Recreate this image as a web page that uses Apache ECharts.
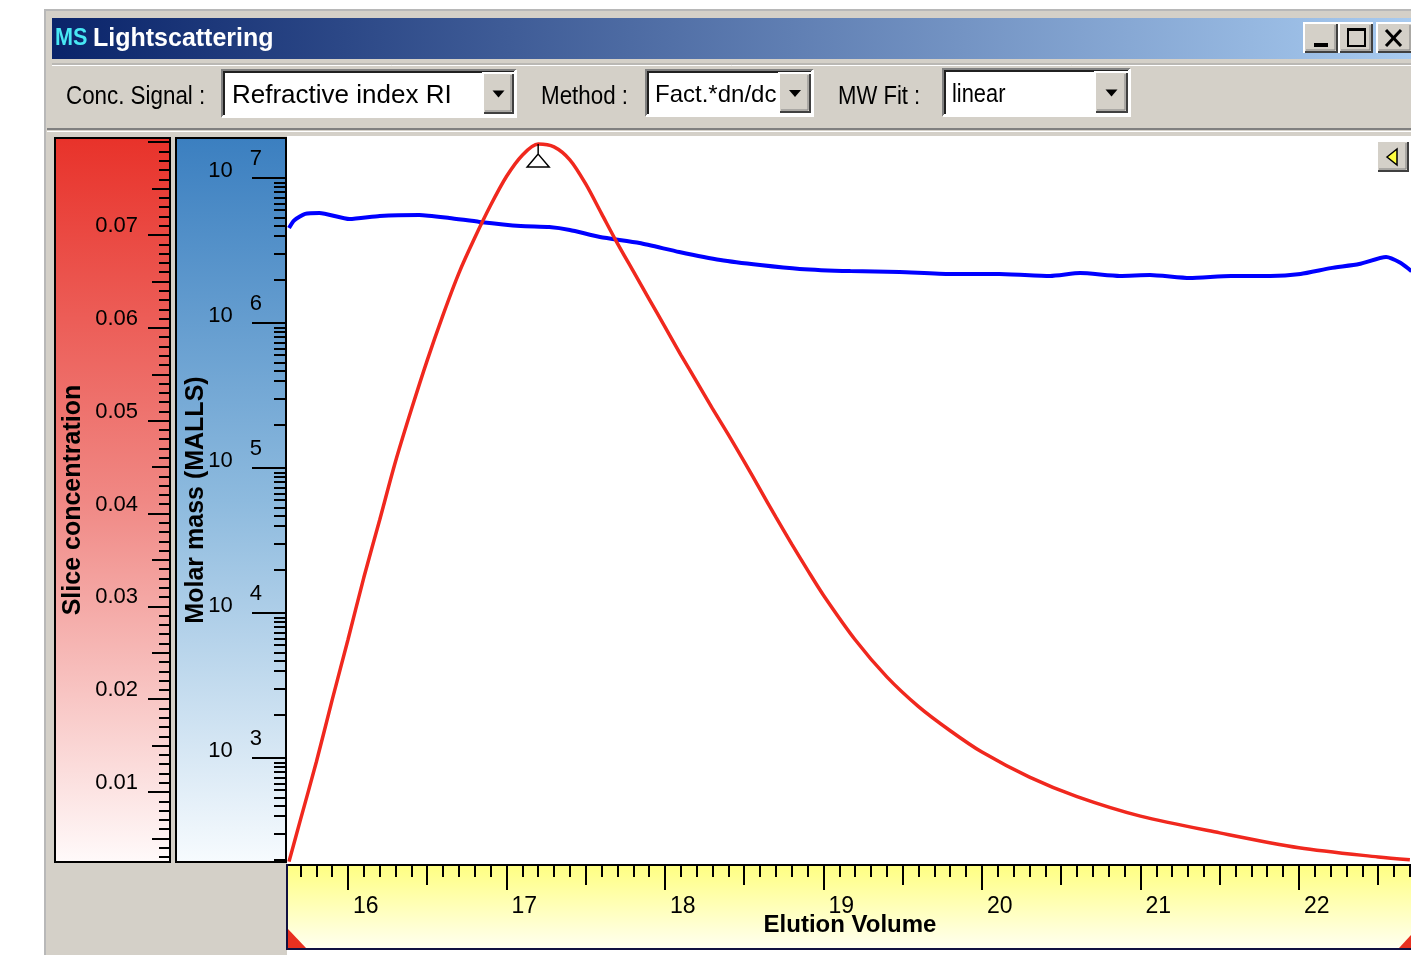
<!DOCTYPE html>
<html><head><meta charset="utf-8">
<script src="https://cdn.jsdelivr.net/npm/echarts@6/dist/echarts.min.js"></script>
<style>html,body{margin:0;padding:0;background:#fff}#c{width:1411px;height:955px}</style>
</head><body><div id="c"></div>
<script>
// ---- data ----
const concVolume = [15.628, 15.7, 15.8, 15.9, 16.0, 16.1, 16.2, 16.3, 16.4, 16.5, 16.6, 16.7, 16.8, 16.9, 17.0, 17.1, 17.2, 17.3, 17.4, 17.5, 17.6, 17.7, 17.8, 17.9, 18.0, 18.1, 18.2, 18.3, 18.4, 18.5, 18.6, 18.7, 18.8, 18.9, 19.0, 19.2, 19.4, 19.6, 19.8, 20.0, 20.3, 20.6, 21.0, 21.5, 22.0, 22.5, 22.7];
const sliceConcentration = [0.0025, 0.0070, 0.0132, 0.0199, 0.0264, 0.0331, 0.0393, 0.0456, 0.0512, 0.0565, 0.0614, 0.0659, 0.0697, 0.0732, 0.0763, 0.0786, 0.0798, 0.0795, 0.0781, 0.0755, 0.0723, 0.0691, 0.0661, 0.0631, 0.0601, 0.0571, 0.0542, 0.0513, 0.0485, 0.0456, 0.0426, 0.0396, 0.0367, 0.0339, 0.0312, 0.0264, 0.0224, 0.0192, 0.0166, 0.0143, 0.0116, 0.0095, 0.0074, 0.0056, 0.0040, 0.0030, 0.0027];
const massVolume = [15.628, 15.66, 15.73, 15.82, 16.01, 16.20, 16.45, 16.64, 16.83, 17.09, 17.27, 17.40, 17.59, 17.84, 18.09, 18.35, 18.60, 18.85, 19.17, 19.48, 19.80, 20.11, 20.43, 20.62, 20.87, 21.06, 21.31, 21.57, 21.82, 22.01, 22.20, 22.38, 22.55, 22.64, 22.71];
const molarMass = [4.52e6, 5.1e6, 5.65e6, 5.74e6, 5.21e6, 5.47e6, 5.56e6, 5.30e6, 4.98e6, 4.67e6, 4.59e6, 4.38e6, 3.92e6, 3.56e6, 3.09e6, 2.72e6, 2.51e6, 2.36e6, 2.28e6, 2.25e6, 2.18e6, 2.18e6, 2.11e6, 2.21e6, 2.11e6, 2.14e6, 2.04e6, 2.11e6, 2.11e6, 2.18e6, 2.39e6, 2.55e6, 2.85e6, 2.6e6, 2.28e6];

// ---- axis ranges and tick values ----
const xRange = [15.628, 22.707];
const concRange = [0.00246, 0.08045];
const massRange = [191.8, 1.887e7];
const xMajorTicks = [16, 17, 18, 19, 20, 21, 22];
const xHalfTicks = [16.5, 17.5, 18.5, 19.5, 20.5, 21.5, 22.5];
const xMinorTicks = []; for (let i = 157; i <= 227; i++) xMinorTicks.push(i / 10);
const concMajorTicks = [0.01, 0.02, 0.03, 0.04, 0.05, 0.06, 0.07, 0.08];
const concLabels = [0.01, 0.02, 0.03, 0.04, 0.05, 0.06, 0.07];
const concHalfTicks = [0.005, 0.015, 0.025, 0.035, 0.045, 0.055, 0.065, 0.075];
const concMinorTicks = []; for (let i = 3; i <= 80; i++) concMinorTicks.push(i / 1000);
const massMajorTicks = [1e3, 1e4, 1e5, 1e6, 1e7];
const massMinorSteps = [2, 3, 4, 4.67, 5.33, 6, 6.67, 7.33, 8, 8.67, 9.33];
const massMinorTicks = [];
for (let n = 2; n <= 7; n++) massMinorSteps.forEach(k => { const v = k * Math.pow(10, n); if (v > massRange[0] && v < massRange[1]) massMinorTicks.push(v); });

const FR = '"Liberation Sans", Arial, sans-serif';
const GRID = { left: 289, top: 138, width: 1122, height: 724 };

function xAx(ticks, len, main) {
  return {
    type: 'value', gridIndex: 0, min: xRange[0], max: xRange[1], position: 'bottom', offset: 3,
    axisLine: { show: !!main, onZero: false, lineStyle: { color: '#000', width: 2 } },
    axisTick: { show: true, inside: false, length: len, customValues: ticks, lineStyle: { color: '#000', width: 2 } },
    axisLabel: main ? { show: true, customValues: xMajorTicks, align: 'left', padding: [0, 0, 0, 5], margin: 30,
      fontSize: 23, fontFamily: FR, color: '#000' } : { show: false },
    splitLine: { show: false },
    name: main ? 'Elution Volume' : '', nameLocation: 'middle', nameGap: 48, nameMoveOverlap: false,
    nameTextStyle: { fontWeight: 'bold', fontSize: 24, fontFamily: FR, color: '#000' }
  };
}
function concAx(ticks, len, main) {
  return {
    type: 'value', gridIndex: 0, min: concRange[0], max: concRange[1], position: 'left', offset: 119,
    axisLine: { show: !!main, onZero: false, lineStyle: { color: '#000', width: 2 } },
    axisTick: { show: true, inside: false, length: len, customValues: ticks, lineStyle: { color: '#000', width: 2 } },
    axisLabel: main ? { show: true, customValues: concLabels, formatter: v => v.toFixed(2), verticalAlign: 'bottom',
      lineHeight: 18, margin: 32, fontSize: 22, fontFamily: FR, color: '#000' } : { show: false },
    splitLine: { show: false },
    name: main ? 'Slice concentration' : '', nameLocation: 'middle', nameRotate: 90, nameGap: 84, nameMoveOverlap: false,
    nameTextStyle: { fontWeight: 'bold', fontSize: 25, fontFamily: FR, color: '#000' }
  };
}
function massAx(ticks, len, main) {
  return {
    type: 'log', logBase: 10, gridIndex: 0, min: massRange[0], max: massRange[1], position: 'left', offset: 3,
    axisLine: { show: !!main, onZero: false, lineStyle: { color: '#000', width: 2 } },
    axisTick: { show: true, inside: false, length: len, customValues: ticks, lineStyle: { color: '#000', width: 2 } },
    axisLabel: main ? { show: true, customValues: massMajorTicks, verticalAlign: 'bottom', margin: 24,
      formatter: v => '{b|10}{e|' + Math.round(Math.log10(v)) + '}',
      rich: {
        b: { fontSize: 22, fontFamily: FR, color: '#000', lineHeight: 20, padding: [12, 17, 6, 0] },
        e: { fontSize: 22, fontFamily: FR, color: '#000', lineHeight: 20, padding: [0, 0, 18, 0] }
      } } : { show: false },
    splitLine: { show: false },
    name: main ? 'Molar mass (MALLS)' : '', nameLocation: 'middle', nameRotate: 90, nameGap: 77, nameMoveOverlap: false,
    nameTextStyle: { fontWeight: 'bold', fontSize: 25, fontFamily: FR, color: '#000' }
  };
}

// ---- window chrome helpers ----
function raised(x, y, w, h) {
  return [
    { type: 'rect', shape: { x, y, width: w, height: h }, style: { fill: '#d4d0c8' } },
    { type: 'polyline', shape: { points: [[x, y + h], [x, y], [x + w, y]] }, style: { stroke: '#ffffff', lineWidth: 2 } },
    { type: 'polyline', shape: { points: [[x + 1, y + h - 1], [x + w - 1, y + h - 1], [x + w - 1, y + 1]] }, style: { stroke: '#404040', lineWidth: 2 } },
    { type: 'polyline', shape: { points: [[x + 2, y + h - 3], [x + w - 3, y + h - 3], [x + w - 3, y + 2]] }, style: { stroke: '#808080', lineWidth: 1 } }
  ];
}
function sunken(x, y, w, h) {
  return [
    { type: 'rect', shape: { x, y, width: w, height: h }, style: { fill: '#ffffff' } },
    { type: 'polyline', shape: { points: [[x, y + h], [x, y], [x + w, y]] }, style: { stroke: '#808080', lineWidth: 2 } },
    { type: 'polyline', shape: { points: [[x + 2, y + h - 2], [x + 2, y + 2], [x + w - 2, y + 2]] }, style: { stroke: '#202020', lineWidth: 2 } },
    { type: 'polyline', shape: { points: [[x, y + h], [x + w, y + h], [x + w, y]] }, style: { stroke: '#ffffff', lineWidth: 2 } }
  ];
}
function arrow(cx, cy) {
  return { type: 'polygon', shape: { points: [[cx - 6, cy - 3], [cx + 6, cy - 3], [cx, cy + 4]] }, style: { fill: '#000' } };
}
function combo(x, y, w, h, bw) {
  return [].concat(sunken(x, y, w, h), raised(x + w - bw - 2, y + 3, bw, h - 6), [arrow(x + w - 2 - bw / 2, y + h / 2)]);
}
function txt(x, y, s, size, fill, weight, sx) {
  return { type: 'text', x, y, scaleX: sx || 1, style: { text: s, fontSize: size, fontFamily: FR, fill: fill || '#000', fontWeight: weight || 'normal', textVerticalAlign: 'middle', textAlign: 'left' } };
}
const vgrad = (stops) => ({ type: 'linear', x: 0, y: 0, x2: 0, y2: 1, colorStops: stops });

let back = [];
back.push({ type: 'rect', shape: { x: 45, y: 10, width: 1370, height: 950 }, style: { fill: '#d4d0c8', stroke: '#b8b8b8', lineWidth: 2 } });
back.push({ type: 'rect', shape: { x: 52, y: 18, width: 1362, height: 41 },
  style: { fill: { type: 'linear', x: 0, y: 0, x2: 1, y2: 0, colorStops: [{ offset: 0, color: '#0a246a' }, { offset: 1, color: '#a8cbf0' }] } } });
back.push({ type: 'line', shape: { x1: 52, y1: 64, x2: 1411, y2: 64 }, style: { stroke: '#a0a0a0', lineWidth: 1 } });
back.push({ type: 'line', shape: { x1: 52, y1: 65.5, x2: 1411, y2: 65.5 }, style: { stroke: '#ffffff', lineWidth: 1 } });
back.push({ type: 'line', shape: { x1: 47, y1: 129, x2: 1411, y2: 129 }, style: { stroke: '#808080', lineWidth: 2 } });
back.push({ type: 'line', shape: { x1: 47, y1: 131.5, x2: 1411, y2: 131.5 }, style: { stroke: '#ffffff', lineWidth: 1 } });
back.push({ type: 'rect', shape: { x: 287, y: 136, width: 1126, height: 728 }, style: { fill: '#ffffff' } });
back.push({ type: 'rect', shape: { x: 55, y: 138, width: 115, height: 724 },
  style: { fill: vgrad([{ offset: 0, color: '#e8322a' }, { offset: 0.5, color: '#f08884' }, { offset: 1, color: '#fffafa' }]), stroke: '#000', lineWidth: 2 } });
back.push({ type: 'rect', shape: { x: 176, y: 138, width: 110, height: 724 },
  style: { fill: vgrad([{ offset: 0, color: '#3b7fc0' }, { offset: 0.5, color: '#8dbade' }, { offset: 1, color: '#f7fbfe' }]), stroke: '#000', lineWidth: 2 } });
back.push({ type: 'rect', shape: { x: 287, y: 865, width: 1126, height: 84 },
  style: { fill: vgrad([{ offset: 0, color: '#ffff80' }, { offset: 1, color: '#fffff2' }]), stroke: '#101040', lineWidth: 2 } });
back.push({ type: 'rect', shape: { x: 287, y: 950, width: 1126, height: 6 }, style: { fill: '#ffffff' } });
back = back.map(e => Object.assign(e, { z: -10, silent: true }));

let front = [];
front.push(txt(55, 38, 'MS', 24, '#48e8f4', 'bold', 0.9));
front.push(txt(93, 39, 'Lightscattering', 25, '#ffffff', 'bold'));
front = front.concat(raised(1304, 23, 34, 30), raised(1339, 23, 34, 30), raised(1377, 23, 36, 30));
front.push({ type: 'rect', shape: { x: 1314, y: 43, width: 14, height: 4 }, style: { fill: '#000' } });
front.push({ type: 'rect', shape: { x: 1348, y: 29, width: 17, height: 17 }, style: { fill: 'none', stroke: '#000', lineWidth: 2 } });
front.push({ type: 'rect', shape: { x: 1347, y: 28, width: 19, height: 3 }, style: { fill: '#000' } });
front.push({ type: 'line', shape: { x1: 1386, y1: 30, x2: 1401, y2: 46 }, style: { stroke: '#000', lineWidth: 3 } });
front.push({ type: 'line', shape: { x1: 1401, y1: 30, x2: 1386, y2: 46 }, style: { stroke: '#000', lineWidth: 3 } });
front.push(txt(66, 97, 'Conc. Signal :', 26, '#000', 'normal', 0.86));
front = front.concat(combo(222, 70, 294, 47, 31));
front.push(txt(232, 96, 'Refractive index RI', 26));
front.push(txt(541, 97, 'Method :', 26, '#000', 'normal', 0.86));
front = front.concat(combo(646, 70, 167, 46, 32));
front.push(txt(655, 95, 'Fact.*dn/dc', 24));
front.push(txt(838, 97, 'MW Fit :', 26, '#000', 'normal', 0.85));
front = front.concat(combo(943, 69, 187, 47, 33));
front.push(txt(952, 95, 'linear', 26, '#000', 'normal', 0.84));
front = front.concat(raised(1377, 141, 32, 31));
front.push({ type: 'polygon', shape: { points: [[1387, 157], [1397, 149], [1397, 165]] }, style: { fill: '#ffff40', stroke: '#000', lineWidth: 1.5 } });
front.push({ type: 'polygon', shape: { points: [[288, 929], [288, 948], [306, 948]] }, style: { fill: '#e83020' } });
front.push({ type: 'polygon', shape: { points: [[1411, 935], [1411, 948], [1399, 948]] }, style: { fill: '#e83020' } });
front = front.map(e => Object.assign(e, { z: 20, silent: true }));

const chart = echarts.init(document.getElementById('c'), null, { renderer: 'canvas' });
chart.setOption({
  animation: false,
  backgroundColor: '#ffffff',
  graphic: { elements: back.concat(front) },
  grid: [GRID],
  xAxis: [xAx(xMajorTicks, 25, true), xAx(xHalfTicks, 20, false), xAx(xMinorTicks, 12, false)],
  yAxis: [concAx(concMajorTicks, 22, true), concAx(concHalfTicks, 18, false), concAx(concMinorTicks, 11, false),
          massAx(massMajorTicks, 34, true), massAx(massMinorTicks, 12, false)],
  series: [
    {
      type: 'line', name: 'Molar mass', xAxisIndex: 0, yAxisIndex: 3, z: 3,
      data: massVolume.map((x, i) => [x, molarMass[i]]),
      showSymbol: false, smooth: 0.2, lineStyle: { color: '#0000ff', width: 4 }
    },
    {
      type: 'line', name: 'Slice concentration', xAxisIndex: 0, yAxisIndex: 0, z: 4,
      data: concVolume.map((x, i) => [x, sliceConcentration[i]]),
      showSymbol: false, smooth: 0.3, lineStyle: { color: '#f0281e', width: 3.5 },
      markPoint: {
        symbol: 'path://M11,0 L11,10 M11,10 L0,23 L22,23 Z', symbolSize: [22, 23], symbolOffset: [0, 11.5],
        itemStyle: { color: 'rgba(0,0,0,0)', borderColor: '#000', borderWidth: 1.5 },
        label: { show: false }, data: [{ type: 'max' }]
      }
    }
  ]
});
</script></body></html>
